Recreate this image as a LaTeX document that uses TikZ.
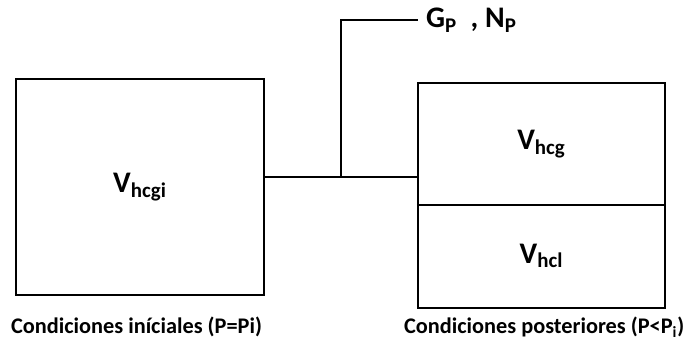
\documentclass[tikz,border=0pt]{standalone}
\usepackage{fontspec}
\setmainfont{Carlito}
\usetikzlibrary{positioning,calc}

\begin{document}
\begin{tikzpicture}
  [x=0.02cm,y=-0.02cm,
   line width=1.2pt,
   volBox/.style={draw,inner sep=0pt,minimum width=4.96cm},
   volN/.style={inner sep=0pt,font=\fontsize{17}{20}\selectfont\bfseries},
   capN/.style={anchor=west,inner sep=0pt,font=\fontsize{12.7}{15}\selectfont\bfseries},
   propN/.style={anchor=west,inner sep=4pt,font=\fontsize{17}{20}\selectfont\bfseries},
  ]
  \useasboundingbox (0,0) rectangle (686,343);

  \node[volBox,minimum height=4.32cm] (ini) at (140,187) {};
  \node[volN] (vIni) at (ini.center) {V\textsubscript{hcgi}};

  \node[volBox,minimum width=4.94cm,minimum height=4.5cm] (post) at (541.5,195.5) {};
  \coordinate (div) at (541.5,205);
  \draw (post.west |- div) -- (post.east |- div);
  \node[volN] (vGas) at (541.5,144) {V\textsubscript{hcg}};
  \node[volN] (vLiq) at (541.5,256) {V\textsubscript{hcl}};

  \coordinate (joint) at (341,177);
  \node[propN] (gp) at (418,20) {G\textsubscript{P}\ \ , N\textsubscript{P}};

  \draw (joint -| ini.east) -- (joint -| post.west);
  \draw (joint) |- (gp.west);

  \node[capN] (capIni) at (10,327) {Condiciones iníciales (P=Pi)};
  \node[capN] (capPost) at (403,327) {Condiciones posteriores (P<P\textsubscript{i})};
\end{tikzpicture}
\end{document}
